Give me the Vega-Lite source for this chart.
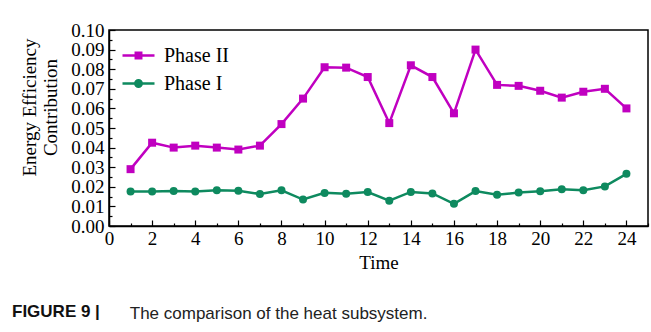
{
  "$schema": "https://vega.github.io/schema/vega-lite/v6.json",
  "background": "white",
  "padding": {"left": 12, "top": 20, "right": 3, "bottom": 5},
  "title": {"text": "FIGURE 9\u00a0|", "orient": "bottom", "anchor": "start", "font": "Liberation Sans", "fontSize": 17, "fontWeight": "bold", "color": "#111", "offset": -19, "dx": -8},
  "spacing": 0,
  "vconcat": [
    {
      "width": 539,
      "height": 196,
      "title": {"text": "The comparison of the heat subsystem.", "orient": "bottom", "anchor": "start", "font": "Liberation Sans", "fontSize": 17, "fontWeight": "normal", "color": "#222", "offset": 34, "dx": 109},
      "data": {"values": [
        {"t": 1, "series": "Phase II", "v": 0.029},
        {"t": 2, "series": "Phase II", "v": 0.0425},
        {"t": 3, "series": "Phase II", "v": 0.040},
        {"t": 4, "series": "Phase II", "v": 0.041},
        {"t": 5, "series": "Phase II", "v": 0.040},
        {"t": 6, "series": "Phase II", "v": 0.039},
        {"t": 7, "series": "Phase II", "v": 0.041},
        {"t": 8, "series": "Phase II", "v": 0.052},
        {"t": 9, "series": "Phase II", "v": 0.065},
        {"t": 10, "series": "Phase II", "v": 0.081},
        {"t": 11, "series": "Phase II", "v": 0.0808},
        {"t": 12, "series": "Phase II", "v": 0.076},
        {"t": 13, "series": "Phase II", "v": 0.0525},
        {"t": 14, "series": "Phase II", "v": 0.082},
        {"t": 15, "series": "Phase II", "v": 0.076},
        {"t": 16, "series": "Phase II", "v": 0.0575},
        {"t": 17, "series": "Phase II", "v": 0.090},
        {"t": 18, "series": "Phase II", "v": 0.072},
        {"t": 19, "series": "Phase II", "v": 0.0715},
        {"t": 20, "series": "Phase II", "v": 0.069},
        {"t": 21, "series": "Phase II", "v": 0.0655},
        {"t": 22, "series": "Phase II", "v": 0.0685},
        {"t": 23, "series": "Phase II", "v": 0.070},
        {"t": 24, "series": "Phase II", "v": 0.060},
        {"t": 1, "series": "Phase I", "v": 0.0176},
        {"t": 2, "series": "Phase I", "v": 0.0176},
        {"t": 3, "series": "Phase I", "v": 0.0179},
        {"t": 4, "series": "Phase I", "v": 0.0176},
        {"t": 5, "series": "Phase I", "v": 0.0182},
        {"t": 6, "series": "Phase I", "v": 0.0180},
        {"t": 7, "series": "Phase I", "v": 0.0163},
        {"t": 8, "series": "Phase I", "v": 0.0182},
        {"t": 9, "series": "Phase I", "v": 0.0135},
        {"t": 10, "series": "Phase I", "v": 0.0169},
        {"t": 11, "series": "Phase I", "v": 0.0164},
        {"t": 12, "series": "Phase I", "v": 0.0173},
        {"t": 13, "series": "Phase I", "v": 0.0129},
        {"t": 14, "series": "Phase I", "v": 0.0174},
        {"t": 15, "series": "Phase I", "v": 0.0166},
        {"t": 16, "series": "Phase I", "v": 0.0113},
        {"t": 17, "series": "Phase I", "v": 0.0178},
        {"t": 18, "series": "Phase I", "v": 0.0159},
        {"t": 19, "series": "Phase I", "v": 0.0171},
        {"t": 20, "series": "Phase I", "v": 0.0177},
        {"t": 21, "series": "Phase I", "v": 0.0187},
        {"t": 22, "series": "Phase I", "v": 0.0183},
        {"t": 23, "series": "Phase I", "v": 0.0202},
        {"t": 24, "series": "Phase I", "v": 0.0266}
      ]},
      "encoding": {
        "x": {
          "field": "t", "type": "quantitative",
          "scale": {"domain": [0, 25], "nice": false, "zero": false},
          "axis": {
            "title": "Time",
            "values": [0,1,2,3,4,5,6,7,8,9,10,11,12,13,14,15,16,17,18,19,20,21,22,23,24,25],
            "tickSize": {"condition": {"test": "datum.value % 2 != 0", "value": -3}, "value": -6},
            "labelExpr": "datum.value % 2 != 0 ? '' : datum.label",
            "labelPadding": 9,
            "titlePadding": 2,
            "labelFlush": false,
            "labelOverlap": false
          }
        },
        "y": {
          "field": "v", "type": "quantitative",
          "scale": {"domain": [0, 0.1], "nice": false},
          "axis": {
            "title": ["Energy Efficiency", "Contribution"],
            "values": [0,0.005,0.01,0.015,0.02,0.025,0.03,0.035,0.04,0.045,0.05,0.055,0.06,0.065,0.07,0.075,0.08,0.085,0.09,0.095,0.1],
            "format": ".2f",
            "tickSize": {"condition": {"test": "round(datum.value*1000) % 10 != 0", "value": -3}, "value": -6},
            "labelExpr": "round(datum.value*1000) % 10 != 0 ? '' : datum.label",
            "labelPadding": 11,
            "titlePadding": 10,
            "titleY": 77,
            "titleLineHeight": 21,
            "labelFlush": false,
            "labelOverlap": false
          }
        },
        "color": {
          "field": "series", "type": "nominal",
          "scale": {"domain": ["Phase II", "Phase I"], "range": ["#C000C0", "#0E8A5F"]}
        }
      },
      "layer": [
        {
          "mark": {"type": "line", "strokeWidth": 2.5},
          "encoding": {
            "color": {
              "field": "series", "type": "nominal",
              "legend": {
                "title": null,
                "orient": "none",
                "legendX": 12,
                "legendY": 8,
                "labelFont": "Liberation Serif",
                "labelFontSize": 20,
                "labelColor": "black",
                "labelOffset": 8,
                "rowPadding": -5,
                "symbolSize": 1024,
                "symbolStrokeWidth": 2.5,
                "encode": {
                  "symbols": {
                    "update": {
                      "shape": {"signal": "datum.value === 'Phase II' ? 'M-1,0H1M-0.17,-0.17H0.17V0.17H-0.17Z' : 'M-1,0H1M-0.2,0A0.2,0.2 0 1,0 0.2,0A0.2,0.2 0 1,0 -0.2,0Z'"},
                      "fill": {"scale": "color", "field": "value"},
                      "stroke": {"scale": "color", "field": "value"},
                      "opacity": {"value": 1},
                      "fillOpacity": {"value": 1}
                    }
                  }
                }
              }
            }
          }
        },
        {
          "transform": [{"filter": "datum.series === 'Phase II'"}],
          "mark": {"type": "point", "filled": true, "opacity": 1, "shape": "square", "size": 64},
          "encoding": {
            "color": {"field": "series", "type": "nominal", "legend": null}
          }
        },
        {
          "transform": [{"filter": "datum.series === 'Phase I'"}],
          "mark": {"type": "point", "filled": true, "opacity": 1, "shape": "circle", "size": 64},
          "encoding": {
            "color": {"field": "series", "type": "nominal", "legend": null}
          }
        }
      ]
    }
  ],
  "config": {
    "view": {"stroke": "black", "strokeWidth": 1.5},
    "axis": {
      "labelFont": "Liberation Serif",
      "labelFontSize": 19,
      "labelColor": "black",
      "titleFont": "Liberation Serif",
      "titleFontSize": 19,
      "titleFontWeight": "normal",
      "titleColor": "black",
      "domainColor": "black",
      "domainWidth": 1.5,
      "tickColor": "black",
      "tickWidth": 1.2,
      "grid": false
    }
  }
}
